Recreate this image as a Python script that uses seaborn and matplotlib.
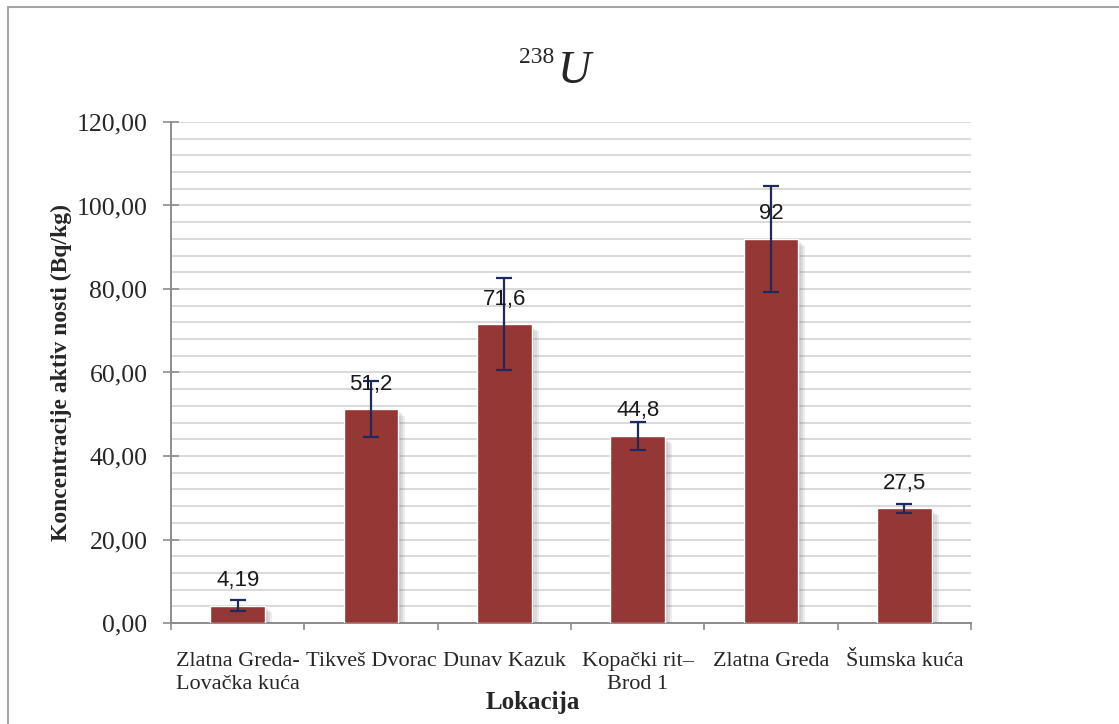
import matplotlib
matplotlib.use("Agg")
import matplotlib.pyplot as plt
import matplotlib.patheffects as pe
from matplotlib.patches import Rectangle
from matplotlib.ticker import FuncFormatter, MultipleLocator, FixedLocator
import seaborn as sns
import pandas as pd
import numpy as np

# Podaci (238U, Bq/kg)
lokacije = ["Zlatna Greda-\nLovačka kuća", "Tikveš Dvorac", "Dunav Kazuk",
            "Kopački rit–\nBrod 1", "Zlatna Greda", "Šumska kuća"]
vrijednosti = [4.19, 51.2, 71.6, 44.8, 92, 27.5]
pogreske = [1.3, 6.7, 11.0, 3.4, 12.7, 1.1]
oznake = ["4,19", "51,2", "71,6", "44,8", "92", "27,5"]

df = pd.DataFrame({"Lokacija": lokacije, "Vrijednost": vrijednosti})

sns.set_style("white")
plt.rcParams['font.family'] = ['Liberation Serif', 'DejaVu Serif']

fig = plt.figure(figsize=(11.19, 7.24), dpi=100)
ax = fig.add_axes([171/1119, 1-623/724, 800/1119, 501/724])

boja = "#953735"
sns.barplot(data=df, x="Lokacija", y="Vrijednost", color=boja, saturation=1,
            width=0.41, errorbar=None, ax=ax, zorder=3)

# meka sjena ispod stupaca
sjena = [pe.SimplePatchShadow(offset=(o, -o), shadow_rgbFace="#6f6f6f", alpha=0.13)
         for o in (2, 3.5, 5)]
for p in ax.patches:
    p.set_path_effects(sjena + [pe.Normal()])

x = np.arange(len(lokacije))
ax.errorbar(x, vrijednosti, yerr=pogreske, fmt="none", ecolor="#1c2a5e",
            elinewidth=1.6, capsize=6, capthick=1.6, zorder=5)

# oznake vrijednosti iznad stupaca
for xi, v, t in zip(x, vrijednosti, oznake):
    ax.annotate(t, (xi, v), xytext=(0, 18), textcoords="offset points",
                ha="center", va="center", fontsize=16, color="#1a1a1a",
                family=["Liberation Sans"], zorder=6)

ax.set_ylim(0, 120)
ax.set_xlim(-0.5, 5.5)
ax.yaxis.set_major_locator(MultipleLocator(20))
ax.yaxis.set_minor_locator(MultipleLocator(4))
ax.yaxis.set_major_formatter(FuncFormatter(lambda v, pos: f"{v:.2f}".replace(".", ",")))
ax.grid(axis="y", which="both", color="#d9d9d9", linewidth=1.4, zorder=0)
ax.grid(axis="x", visible=False)
ax.set_axisbelow(True)

ax.xaxis.set_minor_locator(FixedLocator(np.arange(-0.5, 6, 1)))
ax.tick_params(axis="x", which="major", length=0, pad=21, labelsize=16)
ax.tick_params(axis="x", which="minor", direction="out", length=5, width=1.2,
               color="#8c8c8c", bottom=True)
ax.tick_params(axis="y", which="major", direction="inout", length=12, width=1.2,
               color="#8c8c8c", labelsize=18.5, pad=11, left=True)
ax.tick_params(axis="y", which="minor", length=0)
for lab in ax.get_xticklabels():
    lab.set_linespacing(1.25)

for s in ["top", "right"]:
    ax.spines[s].set_visible(False)
for s in ["left", "bottom"]:
    ax.spines[s].set_color("#8c8c8c")
    ax.spines[s].set_linewidth(1.4)

ax.set_xlabel("")
ax.set_ylabel("")
fig.text(0.0545, 0.485, "Koncentracije aktiv nosti (Bq/kg)", rotation=90,
         ha="center", va="center", fontsize=17, fontweight="bold")
fig.text(533/1119, 1-702/724, "Lokacija", ha="center", va="center",
         fontsize=18, fontweight="bold")

# naslov 238U
fig.text(554/1119, 1-63/724, "238", ha="right", va="baseline", fontsize=17)
fig.text(558/1119, 1-83/724, "U", ha="left", va="baseline", fontsize=33, style="italic")

# okvir grafikona
fig.patches.append(Rectangle((8/1119, -0.1), 1.2, 1-7/724+0.1, transform=fig.transFigure,
                             fill=False, edgecolor="#a6a6a6", linewidth=1.5))

fig.savefig("out.png", dpi=100)
